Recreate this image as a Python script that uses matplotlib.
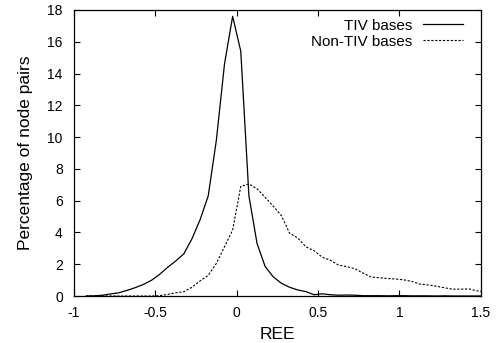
import numpy as np
from matplotlib import pyplot as plt

plt.rcParams['font.family'] = ['Liberation Sans', 'DejaVu Sans']
plt.rcParams['font.size'] = 10

# bin centres (REE) and percentages
ree = [-0.925, -0.875, -0.825, -0.775, -0.725, -0.675, -0.625, -0.575, -0.525,
       -0.475, -0.425, -0.375, -0.325, -0.275, -0.225, -0.175, -0.125, -0.075,
       -0.025, 0.025, 0.075, 0.125, 0.175, 0.225, 0.275, 0.325, 0.375, 0.425,
       0.475, 0.525, 0.575, 0.625, 0.675, 0.725, 0.775, 0.825, 0.875, 0.925,
       0.975, 1.025, 1.075, 1.125, 1.175, 1.225, 1.275, 1.325, 1.375, 1.425,
       1.475, 1.525]

tiv = [0.0, 0.01, 0.05, 0.13, 0.2, 0.35, 0.52, 0.72, 0.98,
       1.35, 1.8, 2.2, 2.65, 3.6, 4.8, 6.3, 9.8, 14.6,
       17.6, 15.4, 6.3, 3.3, 1.85, 1.2, 0.8, 0.55, 0.38, 0.28,
       0.08, 0.14, 0.08, 0.05, 0.06, 0.05, 0.02, 0.02, 0.02, 0.01,
       0.02, 0.02, 0.01, 0.01, 0.01, 0.0, 0.01, 0.0, 0.0, 0.0,
       0.0, 0.0]

non_tiv = [0.0, 0.0, 0.0, 0.0, 0.0, 0.0, 0.0, 0.0, 0.0,
           0.02, 0.1, 0.2, 0.27, 0.55, 0.95, 1.3, 2.05, 3.1,
           4.15, 6.9, 7.05, 6.75, 6.2, 5.65, 5.05, 3.95, 3.65, 3.1,
           2.85, 2.45, 2.25, 1.95, 1.85, 1.72, 1.45, 1.2, 1.15, 1.1,
           1.07, 1.02, 0.92, 0.75, 0.7, 0.62, 0.52, 0.43, 0.43, 0.45,
           0.33, 0.25]

fig = plt.figure(figsize=(5.03, 3.43), dpi=100)
ax = fig.add_axes([0.147, 0.137, 0.809, 0.834])

ax.plot(ree, tiv, color='black', lw=0.9, label='TIV bases')
ax.plot(ree, non_tiv, color='black', lw=0.8, linestyle=(0, (2.0, 1.5)),
        label='Non-TIV bases')

ax.set_xlim(-1, 1.5)
ax.set_ylim(0, 18)
ax.set_xticks([-1, -0.5, 0, 0.5, 1, 1.5])
ax.set_xticklabels(['-1', '-0.5', '0', '0.5', '1', '1.5'])
ax.set_yticks(np.arange(0, 19, 2))
ax.tick_params(direction='in', top=True, right=True, length=4, width=0.8)
ax.tick_params(axis='x', pad=7)
ax.tick_params(axis='y', pad=8)
for s in ax.spines.values():
    s.set_linewidth(0.9)

ax.set_xlabel('REE', fontsize=12.5, labelpad=5)
ax.set_ylabel('Percentage of node pairs', fontsize=12.5, labelpad=10)

ax.legend(loc='upper right', bbox_to_anchor=(0.956, 0.97), frameon=False,
          markerfirst=False, handlelength=2.6, handletextpad=0.7,
          borderaxespad=0, borderpad=0, labelspacing=0.15, fontsize=11)

fig.savefig('out.png', dpi=100)
